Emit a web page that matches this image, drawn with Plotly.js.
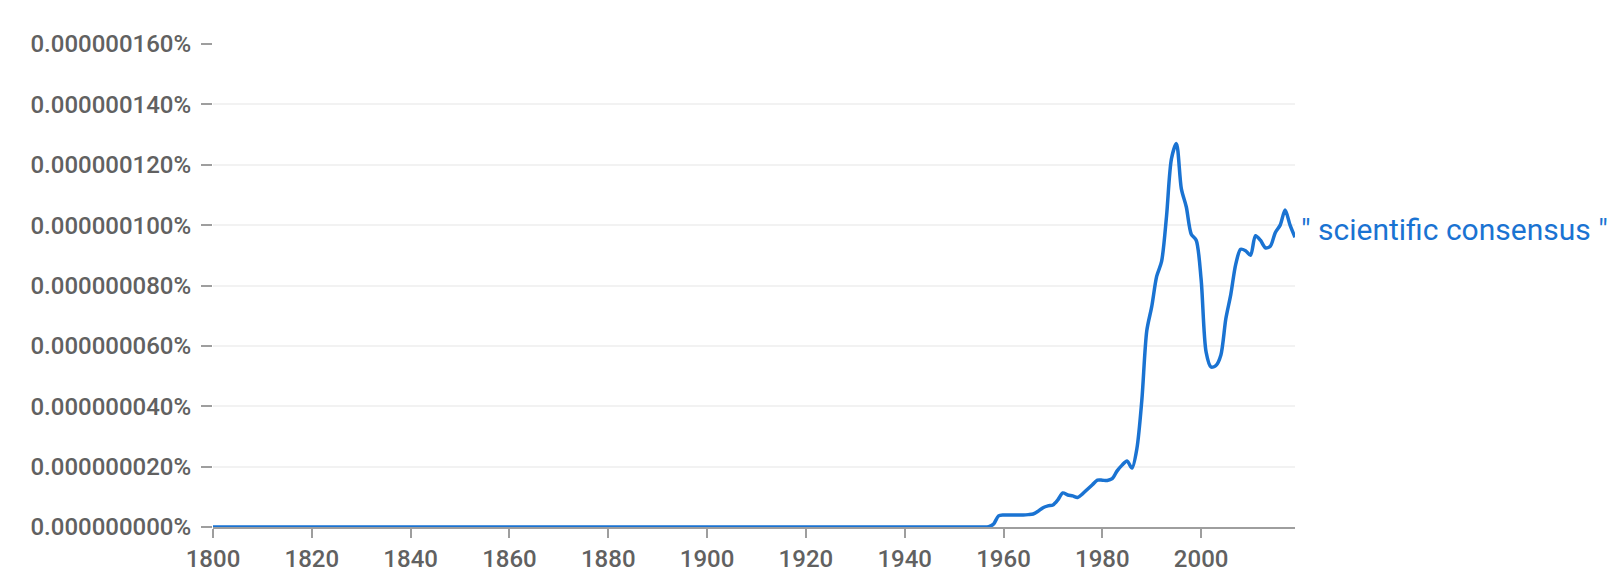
<!DOCTYPE html>
<html>
<head>
<meta charset="utf-8">
<script src="https://cdn.plot.ly/plotly-3.0.1.min.js"></script>
<style>html,body{margin:0;padding:0;background:#fff;}#chart{width:1624px;height:584px;}</style>
</head>
<body>
<div id="chart"></div>
<script>
// Series label
const seriesName = '" scientific consensus "';
// Years 1957-2019 with non-zero values (units: 1e-9 %); before 1957 all zero
const startYear = 1800;
const endYear = 2019;
const activeYears = [1956,1957,1958,1959,1960,1961,1962,1963,1964,1965,1966,1967,1968,1969,1970,1971,1972,1973,1974,1975,1976,1977,1978,1979,1980,1981,1982,1983,1984,1985,1986,1987,1988,1989,1990,1991,1992,1993,1994,1995,1996,1997,1998,1999,2000,2001,2002,2003,2004,2005,2006,2007,2008,2009,2010,2011,2012,2013,2014,2015,2016,2017,2018,2019];
const activeValues = [0,0.1,1.0,3.7,4.0,4.0,4.0,4.0,4.0,4.1,4.3,5.2,6.4,7.0,7.3,9.0,11.3,10.6,10.3,9.8,11.0,12.5,14.0,15.5,15.5,15.4,16.0,18.6,20.5,21.9,19.5,26,42,65,73,83,88,103,122,127,112,106,97,95,82,58,53,53.5,57,69,77,87,92,91.5,90,96.5,95,92.5,93,97.5,100,105,100,96];
// Y tick values (units 1e-9 %)
const yTicks = [0,20,40,60,80,100,120,140,160];
const xTicks = [1800,1820,1840,1860,1880,1900,1920,1940,1960,1980,2000];

const years = [];
const values = [];
for (let y = startYear; y < activeYears[0]; y++) { years.push(y); values.push(0); }
for (let i = 0; i < activeYears.length; i++) { years.push(activeYears[i]); values.push(activeValues[i] * 1e-9); }

const blue = '#1a73d2';
const tickFont = {family: 'Roboto, sans-serif', size: 24, color: '#616161', weight: 500};
const trace = {
  x: years, y: values, type: 'scatter', mode: 'lines',
  line: {color: blue, width: 3.5, shape: 'spline', smoothing: 0.8},
  cliponaxis: false, hoverinfo: 'skip', showlegend: false
};

const layout = {
  width: 1624, height: 584,
  margin: {l: 213, r: 329, t: 44, b: 57},
  paper_bgcolor: '#fff', plot_bgcolor: '#fff',
  font: {family: 'Roboto, sans-serif', size: 24, color: '#616161'},
  xaxis: {
    range: [1800, 2019], tickvals: xTicks, ticktext: xTicks.map(String),
    showgrid: false, zeroline: false,
    showline: true, linecolor: '#9e9e9e', linewidth: 2,
    ticks: 'outside', ticklen: 9, tickwidth: 2, tickcolor: '#9e9e9e',
    tickfont: tickFont,
    ticklabelstandoff: 0
  },
  yaxis: {
    range: [0, 160e-9], tickvals: yTicks.map(v => v * 1e-9),
    ticktext: yTicks.map(v => (v * 1e-9).toFixed(9) + '%'),
    showgrid: true, gridcolor: '#f2f2f2', gridwidth: 2,
    zeroline: false, showline: false,
    ticks: 'outside', ticklen: 11, tickwidth: 2, tickcolor: '#9e9e9e',
    tickfont: tickFont,
    ticklabelstandoff: 5
  },
  annotations: [{
    x: 2019, y: 96e-9, xref: 'x', yref: 'y', text: seriesName,
    showarrow: false, xanchor: 'left', yanchor: 'middle', xshift: 4, yshift: 8,
    font: {family: 'Roboto, sans-serif', size: 30, color: blue}
  }]
};

Plotly.newPlot('chart', [trace], layout, {staticPlot: true, displayModeBar: false});
</script>
</body>
</html>
